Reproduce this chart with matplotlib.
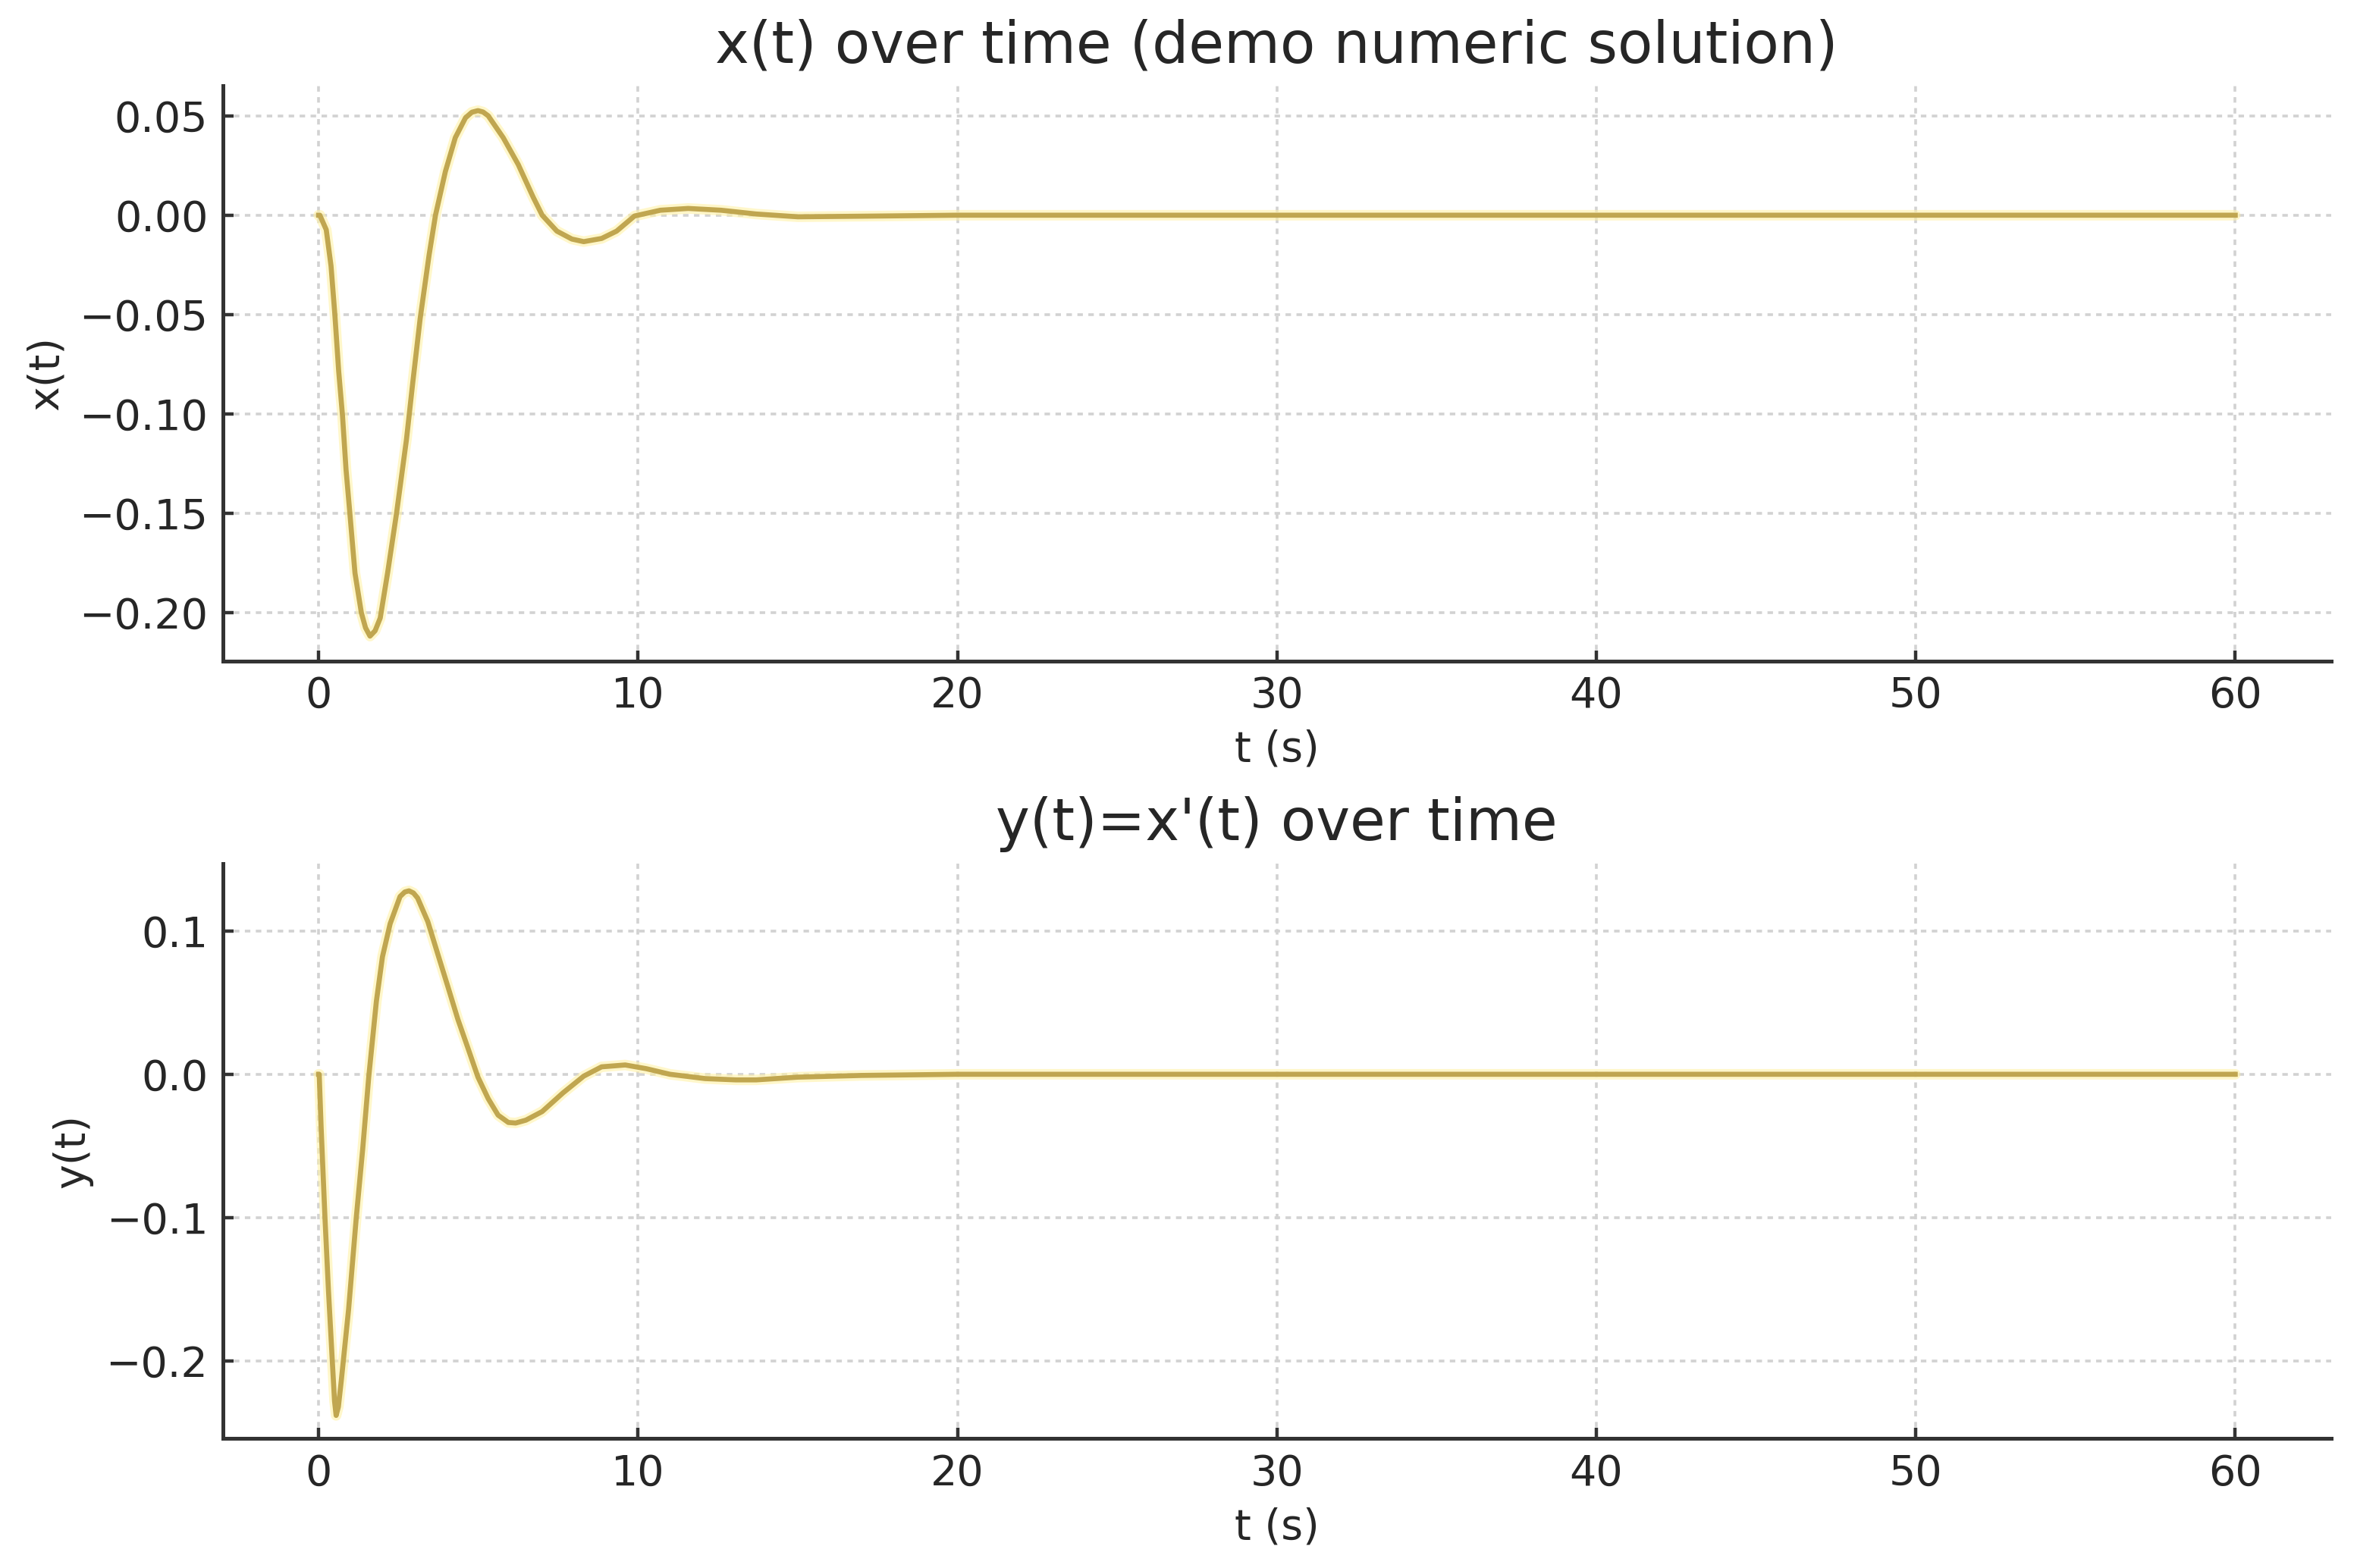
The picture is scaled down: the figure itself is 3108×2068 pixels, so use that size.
import numpy as np
import matplotlib.pyplot as plt

# x(t)
t_x = [0.0, 0.04, 0.24, 0.39, 0.51, 0.63, 0.75, 0.86, 0.98, 1.14, 1.34, 1.47,
       1.61, 1.77, 1.93, 2.16, 2.44, 2.75, 2.95, 3.18, 3.46, 3.66, 3.97, 4.28,
       4.6, 4.8, 4.99, 5.15, 5.31, 5.78, 6.25, 6.72, 7.0, 7.46, 7.93, 8.3, 8.86,
       9.33, 9.89, 10.7, 11.57, 12.6, 13.7, 15.0, 17.0, 20.0, 30.0, 40.0, 50.0,
       60.0]
x_vals = [0.0, 0.0, -0.0073, -0.0255, -0.05, -0.0785, -0.101, -0.128, -0.15,
          -0.18, -0.20, -0.2075, -0.2117, -0.209, -0.2026, -0.18, -0.15, -0.113,
          -0.084, -0.052, -0.020, 0.0, 0.022, 0.039, 0.049, 0.0518, 0.0526,
          0.0519, 0.05, 0.039, 0.0255, 0.009, 0.0, -0.008, -0.012, -0.0133,
          -0.0117, -0.008, -0.0004, 0.0025, 0.0034, 0.0025, 0.0006, -0.0008,
          -0.0005, 0.0, 0.0, 0.0, 0.0, 0.0]

# y(t) = x'(t)
t_y = [0.0, 0.02, 0.08, 0.2, 0.31, 0.43, 0.5, 0.55, 0.62, 0.71, 0.94, 1.18,
       1.38, 1.57, 1.81, 2.0, 2.24, 2.55, 2.7, 2.83, 2.97, 3.1, 3.42, 3.73,
       4.05, 4.36, 4.68, 4.99, 5.31, 5.62, 5.94, 6.17, 6.49, 7.0, 7.65, 8.3,
       8.86, 9.6, 10.26, 11.0, 12.1, 13.06, 13.7, 15.0, 17.0, 20.0, 30.0, 40.0,
       50.0, 60.0]
y_vals = [0.0, 0.0, -0.037, -0.1, -0.151, -0.2, -0.228, -0.238, -0.232, -0.214,
          -0.164, -0.1, -0.0525, -0.002, 0.051, 0.082, 0.105, 0.124, 0.1272,
          0.128, 0.1265, 0.123, 0.1065, 0.084, 0.061, 0.0384, 0.018, -0.002,
          -0.017, -0.0285, -0.0336, -0.034, -0.032, -0.026, -0.013, -0.0013,
          0.0052, 0.0065, 0.0039, 0.0, -0.003, -0.0039, -0.0039, -0.002,
          -0.0008, 0.0, 0.0, 0.0, 0.0, 0.0]

x_ticks = [0, 10, 20, 30, 40, 50, 60]
line_color = '#c0a650'
text_color = '#262626'

fig, (ax1, ax2) = plt.subplots(2, 1, figsize=(15.54, 10.34), dpi=200)
fig.subplots_adjust(left=0.0945, right=0.989, top=0.9453, bottom=0.0825, hspace=0.352)

panels = [
    (ax1, t_x, x_vals, 'x(t) over time (demo numeric solution)', 'x(t)', [0.05, 0.0, -0.05, -0.10, -0.15, -0.20], '{:.2f}'),
    (ax2, t_y, y_vals, "y(t)=x'(t) over time", 'y(t)', [0.1, 0.0, -0.1, -0.2], '{:.1f}'),
]

for ax, tt, vv, title, ylab, yt, fmt in panels:
    ax.plot(tt, vv, color='#fff2a8', lw=5.0, alpha=0.6, solid_capstyle='round')
    ax.plot(tt, vv, color=line_color, lw=2.4, solid_joinstyle='round')
    ax.set_title(title, fontsize=27.3, color=text_color, pad=11)
    ax.set_xlabel('t (s)', fontsize=20, color=text_color, labelpad=6)
    ax.set_ylabel(ylab, fontsize=20, color=text_color, labelpad=6)
    ax.set_xticks(x_ticks)
    ax.set_yticks(yt)
    ax.set_yticklabels([fmt.format(v).replace('-', '\u2212') for v in yt])
    ax.grid(True, color='#d2d2d2', linestyle=(0, (2, 2)), lw=1.3)
    ax.spines['top'].set_visible(False)
    ax.spines['right'].set_visible(False)
    for s in ['left', 'bottom']:
        ax.spines[s].set_linewidth(1.8)
        ax.spines[s].set_color('#333333')
    ax.tick_params(direction='in', length=5, width=1.6, labelsize=20,
                   colors='#333333', labelcolor=text_color, pad=7)

ax1.set_xlim(-3, 63)
ax1.set_ylim(-0.2242, 0.0651)
ax2.set_xlim(-3, 63)
ax2.set_ylim(-0.2542, 0.1471)

fig.savefig('out.png', dpi=200, facecolor='white')
